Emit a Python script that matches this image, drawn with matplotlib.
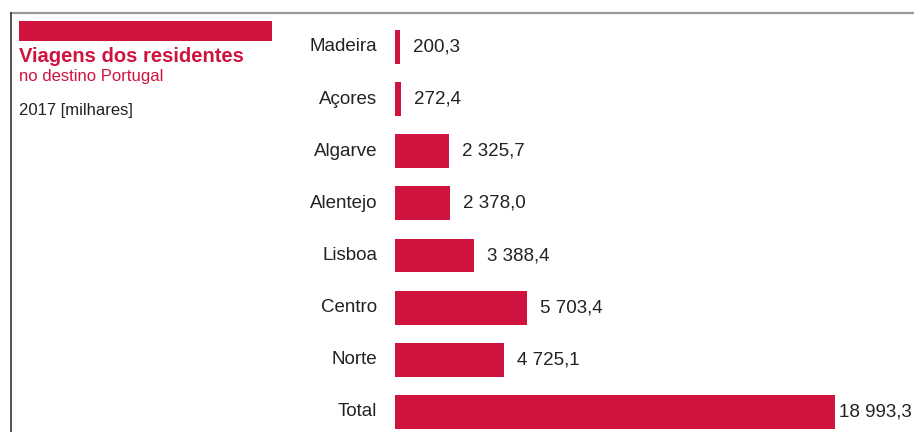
import matplotlib.pyplot as plt
from matplotlib.lines import Line2D
from matplotlib.patches import Rectangle

plt.rcParams['font.family'] = ['Liberation Sans', 'DejaVu Sans']

regions = ['Madeira', 'Açores', 'Algarve', 'Alentejo', 'Lisboa', 'Centro', 'Norte', 'Total']
trips = [200.3, 272.4, 2325.7, 2378.0, 3388.4, 5703.4, 4725.1, 18993.3]
value_labels = ['200,3', '272,4', '2 325,7', '2 378,0', '3 388,4', '5 703,4', '4 725,1', '18 993,3']

red = '#d0123e'
W, H = 914, 432

fig = plt.figure(figsize=(W / 100, H / 100), dpi=100)
fig.patch.set_facecolor('white')

# bar area: zero line at x=395px, full height
ax = fig.add_axes([395 / W, 0, 1 - 395 / W, 1])
ax.set_xlim(0, 22400)
ax.set_ylim(7.384, -0.901)
ax.axis('off')

ypos = list(range(len(regions)))
ax.barh(ypos, trips, height=0.65, color=red, edgecolor='none')

for y, v, name, lab in zip(ypos, trips, regions, value_labels):
    ax.annotate(name, xy=(0, y), xytext=(-18, 0), textcoords='offset pixels',
                ha='right', va='center', fontsize=13.5, color='#222222')
    # the total bar runs close to the edge, so its label sits tighter
    gap = 4 if name == 'Total' else 13
    ax.annotate(lab, xy=(v, y), xytext=(gap, 0), textcoords='offset pixels',
                ha='left', va='center', fontsize=13.5, color='#222222',
                annotation_clip=False)

# frame lines
fig.add_artist(Line2D([11 / W, 1], [1 - 12.5 / H, 1 - 12.5 / H], color='#999999', lw=1.6))
fig.add_artist(Line2D([11 / W, 11 / W], [0, 1 - 12.5 / H], color='#333333', lw=1.2))

# title block
fig.add_artist(Rectangle((19 / W, 1 - 41 / H), 253 / W, 20 / H, transform=fig.transFigure,
                         facecolor=red, edgecolor='none'))
fig.text(19 / W, 1 - 57 / H, 'Viagens dos residentes', fontsize=14.5, fontweight='bold',
         color=red, va='center', ha='left')
fig.text(19 / W, 1 - 76 / H, 'no destino Portugal', fontsize=12, color=red,
         va='center', ha='left')
fig.text(19 / W, 1 - 110 / H, '2017 [milhares]', fontsize=12, color='#222222',
         va='center', ha='left')

fig.savefig('out.png', dpi=100)
